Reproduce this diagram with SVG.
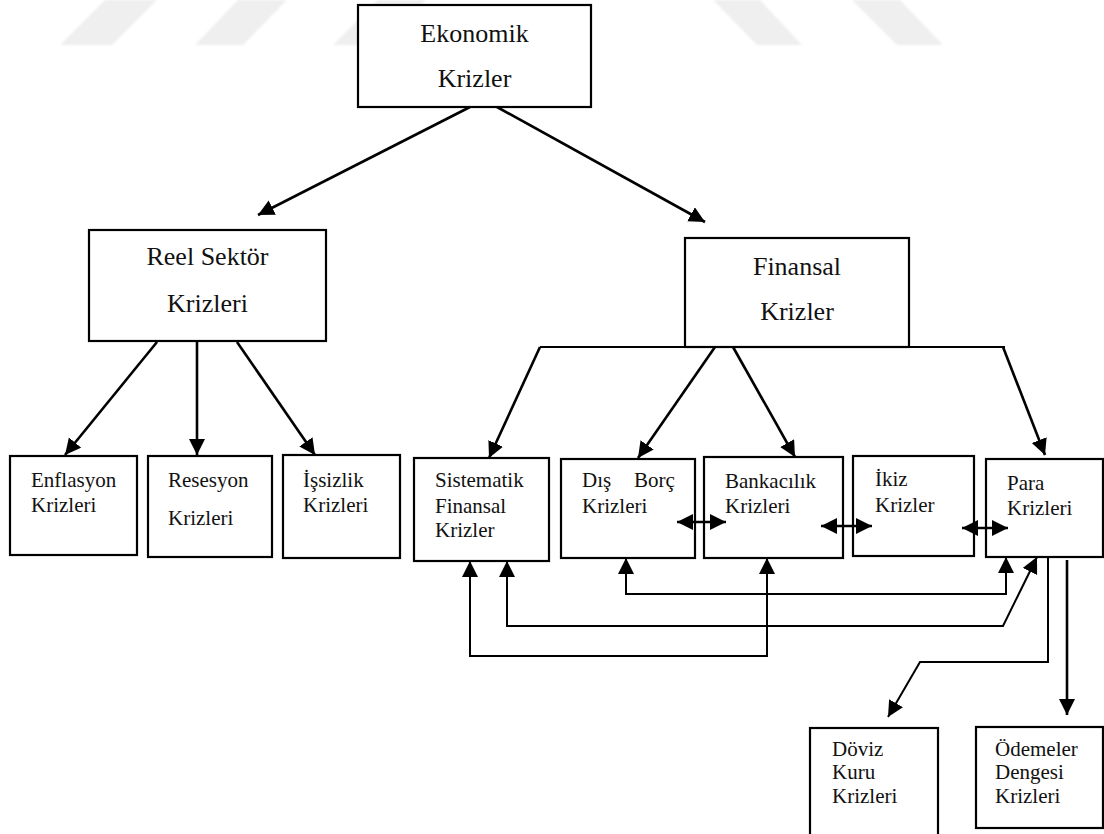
<svg xmlns="http://www.w3.org/2000/svg" width="1104" height="834" viewBox="0 0 1104 834">
  <style>
    .box { fill: #ffffff; stroke: #000000; stroke-width: 2.2; }
    .lbl { font-family: "Liberation Serif", Tinos, "Times New Roman", "DejaVu Serif", serif; font-size: 21px; fill: #111111; }
    .big { font-family: "Liberation Serif", Tinos, "Times New Roman", "DejaVu Serif", serif; font-size: 26px; fill: #111111; text-anchor: middle; }
    .arrow { fill: none; stroke: #000000; stroke-width: 2.6; }
    .loop { fill: none; stroke: #000000; stroke-width: 2; }
    .band { fill: #efefef; }
  </style>
  <defs>
    <marker id="head" markerUnits="userSpaceOnUse" markerWidth="17" markerHeight="17" refX="16" refY="8" orient="auto-start-reverse">
      <path d="M0,0 L16,8 L0,16 z" fill="#000000"/>
    </marker>
    <filter id="soft" x="-10%" y="-20%" width="120%" height="140%">
      <feGaussianBlur stdDeviation="1.2"/>
    </filter>
  </defs>

  <rect width="1104" height="834" fill="#ffffff"/>

  <!-- faint diagonal bands along the top edge -->
  <g id="bands" filter="url(#soft)">
    <polygon class="band" points="60,45 112,45 157,0 105,0"/>
    <polygon class="band" points="195,45 243,45 287,0 238,0"/>
    <polygon class="band" points="333,45 381,45 426,0 378,0"/>
    <polygon class="band" points="713,0 760,0 802,45 757,45"/>
    <polygon class="band" points="852,0 900,0 943,45 897,45"/>
  </g>

  <!-- top level -->
  <g id="ekonomik">
    <rect class="box" x="358" y="5" width="233" height="102"/>
    <text class="big" x="474.5" y="42" font-family="Liberation Serif, serif">Ekonomik</text>
    <text class="big" x="474.5" y="87" font-family="Liberation Serif, serif">Krizler</text>
  </g>

  <g id="reel">
    <rect class="box" x="89" y="230" width="237" height="111"/>
    <text class="big" x="207.5" y="265">Reel Sektör</text>
    <text class="big" x="207.5" y="312">Krizleri</text>
  </g>

  <g id="finansal">
    <rect class="box" x="685" y="238" width="224" height="109"/>
    <text class="big" x="797" y="275">Finansal</text>
    <text class="big" x="797" y="320">Krizler</text>
  </g>

  <!-- real sector branches -->
  <g id="enflasyon">
    <rect class="box" x="10" y="456" width="127" height="99"/>
    <text class="lbl" x="31" y="487">Enflasyon</text>
    <text class="lbl" x="31" y="512">Krizleri</text>
  </g>

  <g id="resesyon">
    <rect class="box" x="148" y="456" width="124" height="101"/>
    <text class="lbl" x="168" y="487">Resesyon</text>
    <text class="lbl" x="168" y="525">Krizleri</text>
  </g>

  <g id="issizlik">
    <rect class="box" x="283" y="455" width="117" height="103"/>
    <text class="lbl" x="303" y="487">İşsizlik</text>
    <text class="lbl" x="303" y="512">Krizleri</text>
  </g>

  <!-- financial branches -->
  <g id="sistematik">
    <rect class="box" x="414" y="458" width="135" height="103"/>
    <text class="lbl" x="435" y="487">Sistematik</text>
    <text class="lbl" x="435" y="513">Finansal</text>
    <text class="lbl" x="435" y="537">Krizler</text>
  </g>

  <g id="dis-borc">
    <rect class="box" x="561" y="459" width="134" height="99"/>
    <text class="lbl" x="582" y="487">Dış</text>
    <text class="lbl" x="634" y="487">Borç</text>
    <text class="lbl" x="582" y="513">Krizleri</text>
  </g>

  <g id="bankacilik">
    <rect class="box" x="704" y="457" width="139" height="101"/>
    <text class="lbl" x="725" y="488">Bankacılık</text>
    <text class="lbl" x="725" y="513">Krizleri</text>
  </g>

  <g id="ikiz">
    <rect class="box" x="853" y="456" width="121" height="100"/>
    <text class="lbl" x="875" y="486">İkiz</text>
    <text class="lbl" x="875" y="512">Krizler</text>
  </g>

  <g id="para">
    <rect class="box" x="986" y="459" width="117" height="98"/>
    <text class="lbl" x="1007" y="490">Para</text>
    <text class="lbl" x="1007" y="515">Krizleri</text>
  </g>

  <!-- currency crisis branches -->
  <g id="doviz">
    <rect class="box" x="810" y="728" width="128" height="120"/>
    <text class="lbl" x="832" y="756">Döviz</text>
    <text class="lbl" x="832" y="779">Kuru</text>
    <text class="lbl" x="832" y="803">Krizleri</text>
  </g>

  <g id="odemeler">
    <rect class="box" x="976" y="727" width="127" height="101"/>
    <text class="lbl" x="995" y="756">Ödemeler</text>
    <text class="lbl" x="995" y="779">Dengesi</text>
    <text class="lbl" x="995" y="803">Krizleri</text>
  </g>

  <!-- connectors, drawn over the boxes -->
  <g id="connectors">
    <path class="arrow" d="M470,107 L258,215" marker-end="url(#head)"/>
    <path class="arrow" d="M497,107 L705,222" marker-end="url(#head)"/>

    <path class="arrow" d="M157,342 L65,455" marker-end="url(#head)"/>
    <path class="arrow" d="M197,342 L197,455" marker-end="url(#head)"/>
    <path class="arrow" d="M237,342 L315,455" marker-end="url(#head)"/>

    <path class="loop" d="M540,347 L1005,347"/>
    <path class="arrow" d="M540,347 L489,458" marker-end="url(#head)"/>
    <path class="arrow" d="M715,347 L638,458" marker-end="url(#head)"/>
    <path class="arrow" d="M733,347 L795,457" marker-end="url(#head)"/>
    <path class="arrow" d="M1003,347 L1045,455" marker-end="url(#head)"/>

    <path class="arrow" d="M677,522 L726,522" marker-start="url(#head)" marker-end="url(#head)"/>
    <path class="arrow" d="M821,526 L872,526" marker-start="url(#head)" marker-end="url(#head)"/>
    <path class="arrow" d="M962,528 L1008,528" marker-start="url(#head)" marker-end="url(#head)"/>

    <path class="loop" d="M470,561 L470,656 L767,656 L767,558" marker-start="url(#head)" marker-end="url(#head)"/>
    <path class="loop" d="M507,561 L507,626 L1003,626 L1037,557" marker-start="url(#head)" marker-end="url(#head)"/>
    <path class="loop" d="M626,558 L626,594 L1006,594 L1006,557" marker-start="url(#head)" marker-end="url(#head)"/>

    <path class="loop" d="M1048,557 L1048,662 L920,662 L888,717" marker-end="url(#head)"/>
    <path class="arrow" d="M1067,560 L1067,715" marker-end="url(#head)"/>
  </g>
</svg>
